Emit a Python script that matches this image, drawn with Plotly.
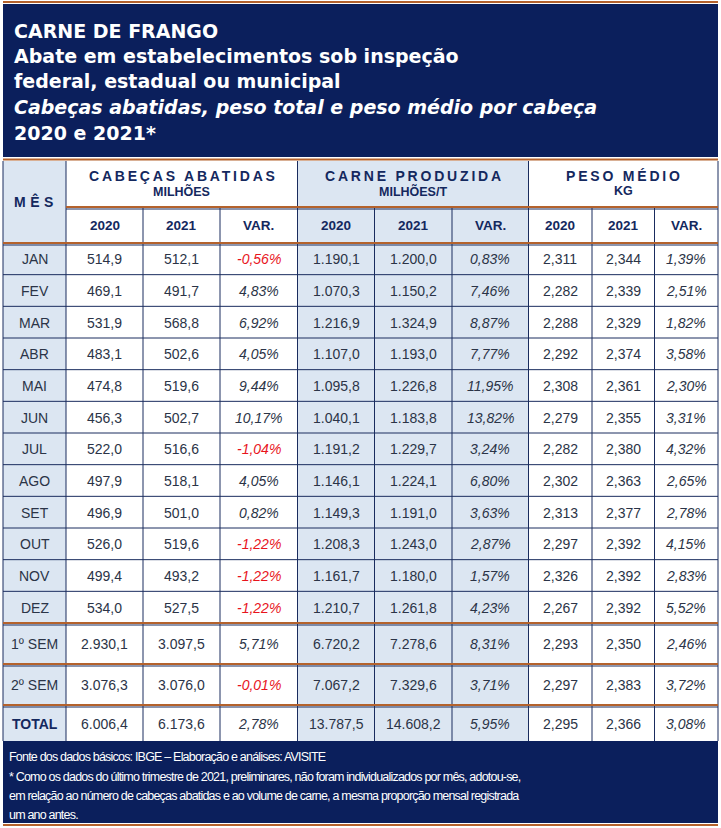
import plotly.graph_objects as go

# ---------------- data ----------------
rows = ["JAN", "FEV", "MAR", "ABR", "MAI", "JUN", "JUL", "AGO", "SET", "OUT", "NOV", "DEZ",
        "1º SEM", "2º SEM", "TOTAL"]
cab_2020 = [514.9, 469.1, 531.9, 483.1, 474.8, 456.3, 522.0, 497.9, 496.9, 526.0, 499.4, 534.0,
            2930.1, 3076.3, 6006.4]
cab_2021 = [512.1, 491.7, 568.8, 502.6, 519.6, 502.7, 516.6, 518.1, 501.0, 519.6, 493.2, 527.5,
            3097.5, 3076.0, 6173.6]
cab_var = [-0.56, 4.83, 6.92, 4.05, 9.44, 10.17, -1.04, 4.05, 0.82, -1.22, -1.22, -1.22,
           5.71, -0.01, 2.78]
carne_2020 = [1190.1, 1070.3, 1216.9, 1107.0, 1095.8, 1040.1, 1191.2, 1146.1, 1149.3, 1208.3, 1161.7, 1210.7,
              6720.2, 7067.2, 13787.5]
carne_2021 = [1200.0, 1150.2, 1324.9, 1193.0, 1226.8, 1183.8, 1229.7, 1224.1, 1191.0, 1243.0, 1180.0, 1261.8,
              7278.6, 7329.6, 14608.2]
carne_var = [0.83, 7.46, 8.87, 7.77, 11.95, 13.82, 3.24, 6.80, 3.63, 2.87, 1.57, 4.23,
             8.31, 3.71, 5.95]
peso_2020 = [2.311, 2.282, 2.288, 2.292, 2.308, 2.279, 2.282, 2.302, 2.313, 2.297, 2.326, 2.267,
             2.293, 2.297, 2.295]
peso_2021 = [2.344, 2.339, 2.329, 2.374, 2.361, 2.355, 2.380, 2.363, 2.377, 2.392, 2.392, 2.392,
             2.350, 2.383, 2.366]
peso_var = [1.39, 2.51, 1.82, 3.58, 2.30, 3.31, 4.32, 2.65, 2.78, 4.15, 2.83, 5.52,
            2.46, 3.72, 3.08]

groups = ["CABEÇAS ABATIDAS", "CARNE PRODUZIDA", "PESO MÉDIO"]
group_units = ["MILHÕES", "MILHÕES/T", "KG"]
sub_headers = ["2020", "2021", "VAR."]

title_lines = [
    "<b>CARNE DE FRANGO</b>",
    "<b>Abate em estabelecimentos sob inspeção</b>",
    "<b>federal, estadual ou municipal</b>",
    "<b><i>Cabeças abatidas, peso total e peso médio por cabeça</i></b>",
    "<b>2020 e 2021*</b>",
]
footer_lines = [
    "Fonte dos dados básicos: IBGE – Elaboração e análises: AVISITE",
    "* Como os dados do último trimestre de 2021, preliminares, não foram individualizados por mês, adotou-se,",
    "em relação ao número de cabeças abatidas e ao volume de carne, a mesma proporção mensal registrada",
    "um ano antes.",
]

# ---------------- formatting ----------------
def br(v, d):
    s = f"{v:,.{d}f}"
    return s.replace(",", "#").replace(".", ",").replace("#", ".")

def pct(v):
    return br(v, 2) + "%"

# ---------------- styles / geometry ----------------
NAVY = "#0b1f5c"
ORANGE = "#b4622c"
LINE = "#1a2c5e"
LIGHT = "#dce6f2"
TXT = "#2b3447"
HDR = "#14285e"
RED = "#e8141c"

W, H = 721, 828
col_edges = [3, 66, 143, 220, 297.5, 374.5, 452, 528.5, 592, 654.5, 718]
title_top, title_bot = 4, 157
hdr_top, hdr_mid, hdr_bot = 160, 207, 243
month_h = (623 - 243) / 12
row_edges = [hdr_bot + i * month_h for i in range(13)] + [664, 705, 741]
foot_bot = 823

shapes = []
ann = []

def rect(x0, y0, x1, y1, color):
    shapes.append(dict(type="rect", xref="x", yref="y", x0=x0, x1=x1, y0=y0, y1=y1,
                       fillcolor=color, line=dict(width=0), layer="below"))

def line(x0, y0, x1, y1, color, w):
    shapes.append(dict(type="line", xref="x", yref="y", x0=x0, x1=x1, y0=y0, y1=y1,
                       line=dict(color=color, width=w), layer="above"))

def text(x, y, s, size, color, family="Liberation Sans, Arial", xanchor="center"):
    ann.append(dict(x=x, y=y, xref="x", yref="y", text=s, showarrow=False,
                    xanchor=xanchor, yanchor="middle",
                    font=dict(size=size, color=color, family=family)))

# title box
line(3, 2, 718, 2, ORANGE, 2)
rect(3, title_top, 718, title_bot, NAVY)
line(3, 159.5, 718, 159.5, ORANGE, 2)
title_y = [31, 56, 81, 107, 133]
for s, y in zip(title_lines, title_y):
    text(12, y, s, 19, "white", family="DejaVu Sans", xanchor="left")

# fills
rect(col_edges[0], hdr_top + 1, col_edges[1], row_edges[-1], LIGHT)
rect(col_edges[4], hdr_top + 1, col_edges[7], row_edges[-1], LIGHT)

# header texts
text((col_edges[0] + col_edges[1]) / 2 + 1.5, (hdr_top + hdr_bot) / 2,
     '<b><span style="letter-spacing:4.5px">MÊS</span></b>', 14, HDR)
for g in range(3):
    xa, xb = col_edges[1 + 3 * g], col_edges[4 + 3 * g]
    text((xa + xb) / 2 + 1.5, 176, f'<b><span style="letter-spacing:2.8px">{groups[g]}</span></b>', 14, HDR)
    text((xa + xb) / 2, 191, f'<b>{group_units[g]}</b>', 12.5, HDR)
    for k in range(3):
        c = 1 + 3 * g + k
        text((col_edges[c] + col_edges[c + 1]) / 2, 225.5, f"<b>{sub_headers[k]}</b>", 13.5, HDR)

# body
cols = [
    (cab_2020, lambda v: br(v, 1), False),
    (cab_2021, lambda v: br(v, 1), False),
    (cab_var, pct, True),
    (carne_2020, lambda v: br(v, 1), False),
    (carne_2021, lambda v: br(v, 1), False),
    (carne_var, pct, True),
    (peso_2020, lambda v: br(v, 3), False),
    (peso_2021, lambda v: br(v, 3), False),
    (peso_var, pct, True),
]
for i, name in enumerate(rows):
    yc = (row_edges[i] + row_edges[i + 1]) / 2 + 0.5
    label = f"<b>{name}</b>" if name == "TOTAL" else name
    text((col_edges[0] + col_edges[1]) / 2, yc, label, 14, HDR if name == "TOTAL" else TXT)
    for c, (vals, fmt, italic) in enumerate(cols):
        v = vals[i]
        s = fmt(v)
        color = RED if (italic and v < 0) else TXT
        if italic:
            s = f"<i>{s}</i>"
        text((col_edges[c + 1] + col_edges[c + 2]) / 2, yc, s, 14, color)

# grid lines
for x in [col_edges[0], col_edges[1], col_edges[4], col_edges[7], col_edges[10]]:
    line(x, hdr_top + 1, x, hdr_mid, LINE, 1)
for x in col_edges:
    line(x, hdr_mid, x, row_edges[-1], LINE, 1)
for i in range(1, 12):
    line(col_edges[0], row_edges[i], col_edges[-1], row_edges[i], LINE, 1)
line(col_edges[1], hdr_mid, col_edges[-1], hdr_mid, ORANGE, 2)
line(col_edges[1], hdr_mid + 2, col_edges[-1], hdr_mid + 2, LINE, 1)
for y in [hdr_bot, row_edges[12], row_edges[13], row_edges[14]]:
    line(col_edges[0], y, col_edges[-1], y, ORANGE, 2)
    line(col_edges[0], y + 2, col_edges[-1], y + 2, LINE, 1)

# footer
rect(3, row_edges[-1], 718, foot_bot, NAVY)
line(3, 825, 718, 825, ORANGE, 2)
foot_y = [757, 776.5, 796, 814.5]
for s, y in zip(footer_lines, foot_y):
    text(7, y, f'<span style="letter-spacing:-0.8px">{s}</span>', 12.5, "white",
         family="Liberation Sans, Arial", xanchor="left")

fig = go.Figure()
fig.update_layout(
    width=W, height=H, margin=dict(l=0, r=0, t=0, b=0),
    paper_bgcolor="white", plot_bgcolor="white",
    xaxis=dict(range=[0, W], visible=False, fixedrange=True),
    yaxis=dict(range=[H, 0], visible=False, fixedrange=True),
    shapes=shapes, annotations=ann, showlegend=False,
)
fig.write_html("out.html", config={"displayModeBar": False},
               post_script="document.body.style.margin='0';document.body.style.overflow='hidden';")
